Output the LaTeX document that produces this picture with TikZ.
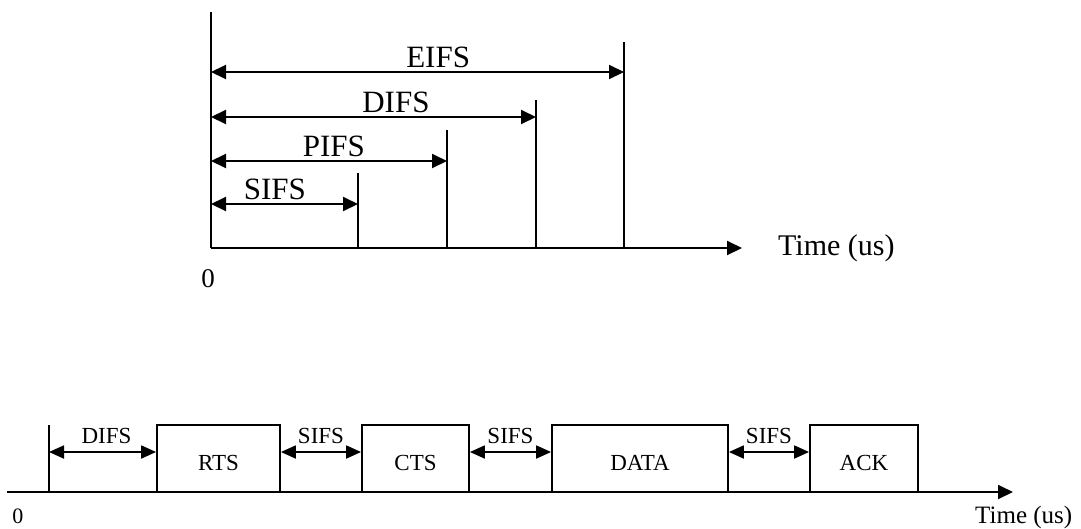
\documentclass[tikz,border=0pt]{standalone}
\usepackage{fontspec}
\setmainfont{Liberation Serif}
\usetikzlibrary{arrows.meta}
\tikzset{
  axis/.style={line width=2pt},
  tick/.style={line width=2pt},
  dim/.style={line width=2pt,{Triangle[length=15pt,width=14pt]}-{Triangle[length=15pt,width=14pt]}},
  dimb/.style={line width=1.8pt,{Triangle[length=15pt,width=13pt]}-{Triangle[length=15pt,width=13pt]}},
  axarrow/.style={line width=2pt,-{Triangle[length=15pt,width=14pt]}},
  toplab/.style={font=\fontsize{31}{33}\selectfont,inner sep=0pt,anchor=base},
  botlab/.style={font=\fontsize{23}{25}\selectfont,inner sep=0pt,anchor=base},
  frame/.style={draw,line width=1.8pt,minimum height=67pt,inner sep=0pt,
    font=\fontsize{23}{25}\selectfont,text height=24pt,text depth=0pt},
}
\begin{document}
\begin{tikzpicture}[x=1pt,y=-1pt]
\useasboundingbox (0,0) rectangle (1081,528);
% ---------- top chart ----------
\coordinate (o) at (211,248);
\coordinate (ytop) at (211,12);
\coordinate (xend) at (742,248);
\coordinate (sifsT) at (358,173);
\coordinate (pifsT) at (447,130);
\coordinate (difsT) at (536,100);
\coordinate (eifsT) at (624,42);
\coordinate (sifsB) at (358,248);
\coordinate (pifsB) at (447,248);
\coordinate (difsB) at (536,248);
\coordinate (eifsB) at (624,248);
\draw[axis] (ytop) -- (o);
\draw[axarrow] (o) -- (xend);
\draw[tick] (sifsT) -- (sifsB);
\draw[tick] (pifsT) -- (pifsB);
\draw[tick] (difsT) -- (difsB);
\draw[tick] (eifsT) -- (eifsB);
\coordinate (a1) at (211,72);
\coordinate (a2) at (211,117);
\coordinate (a3) at (211,161);
\coordinate (a4) at (211,204);
\draw[dim] (a1) -- (a1 -| eifsT) node[toplab,pos=0.55,yshift=5pt] (leifs) {EIFS};
\draw[dim] (a2) -- (a2 -| difsT) node[toplab,pos=0.569,yshift=5pt] (ldifs) {DIFS};
\draw[dim] (a3) -- (a3 -| pifsT) node[toplab,pos=0.521,yshift=5pt] (lpifs) {PIFS};
\draw[dim] (a4) -- (a4 -| sifsT) node[toplab,pos=0.435,yshift=5pt] (lsifs) {SIFS};
\node[font=\fontsize{27}{29}\selectfont,inner sep=0pt,anchor=base] (zero1) at (208,287) {0};
\node[font=\fontsize{30}{32}\selectfont,inner sep=0pt,anchor=base west] (time1) at (778,255) {Time (us)};
% ---------- bottom chart ----------
\coordinate (b0) at (7,492);
\coordinate (bend) at (1013,492);
\coordinate (st) at (49,425);
\coordinate (sb) at (49,492);
\coordinate (s0) at (49,452);
\node[frame,minimum width=123pt] (rts) at (218.5,458.5) {RTS};
\node[frame,minimum width=107pt] (cts) at (415.5,458.5) {CTS};
\node[frame,minimum width=176pt] (data) at (640,458.5) {DATA};
\node[frame,minimum width=108pt] (ack) at (864,458.5) {ACK};
\draw[axarrow,line width=1.8pt] (b0) -- (bend);
\draw[line width=1.8pt] (st) -- (sb);
\draw[dimb] (s0) -- (s0 -| rts.west) node[botlab,pos=0.537,yshift=8.5pt] (bdifs) {DIFS};
\draw[dimb] (s0 -| rts.east) -- (s0 -| cts.west) node[botlab,midway,yshift=8.5pt] (bsifs1) {SIFS};
\draw[dimb] (s0 -| cts.east) -- (s0 -| data.west) node[botlab,midway,yshift=8.5pt] (bsifs2) {SIFS};
\draw[dimb] (s0 -| data.east) -- (s0 -| ack.west) node[botlab,midway,yshift=8.5pt] (bsifs3) {SIFS};
\node[font=\fontsize{22}{24}\selectfont,inner sep=0pt,anchor=base] (zero2) at (18,523) {0};
\node[font=\fontsize{25}{27}\selectfont,inner sep=0pt,anchor=base west] (time2) at (975,523) {Time (us)};
\end{tikzpicture}
\end{document}
